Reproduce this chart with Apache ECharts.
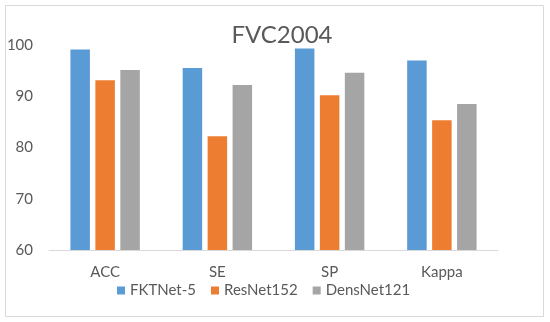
<!DOCTYPE html>
<html><head><meta charset="utf-8">
<script src="https://cdn.jsdelivr.net/npm/echarts@6/dist/echarts.min.js"></script>
<style>html,body{margin:0;padding:0;background:#fff}#c{width:550px;height:322px}</style>
</head><body><div id="c"></div>
<script>
var categories = ['ACC', 'SE', 'SP', 'Kappa'];
var seriesNames = ['FKTNet-5', 'ResNet152', 'DensNet121'];
var fktnet = [99.1, 95.5, 99.3, 97.0];
var resnet = [93.1, 82.2, 90.2, 85.3];
var densnet = [95.1, 92.2, 94.6, 88.5];
var yTicks = [60, 70, 80, 90, 100];
var colors = ['#5b9bd5', '#ed7d31', '#a5a5a5'];
var FONT = 'Lato';
var chart = echarts.init(document.getElementById('c'), null, {renderer: 'canvas'});
var dataSets = [fktnet, resnet, densnet];
chart.setOption({
  animation: false,
  backgroundColor: '#fff',
  title: {text: 'FVC2004', left: 277, top: 18, textAlign: 'center',
    textStyle: {fontFamily: FONT, fontSize: 24, fontWeight: 'normal', color: '#595959'}},
  graphic: [{type: 'rect', shape: {x: 5.5, y: 5.5, width: 538, height: 311},
    style: {fill: 'none', stroke: '#d9d9d9', lineWidth: 1}, silent: true}],
  legend: {data: seriesNames, left: 112, top: 278, itemWidth: 8, itemHeight: 8, itemGap: 15,
    icon: 'rect', textStyle: {fontFamily: FONT, fontSize: 15, color: '#595959'}},
  grid: {left: 49, right: 52, top: 45, bottom: 72},
  xAxis: {type: 'category', data: categories,
    axisLine: {lineStyle: {color: '#d9d9d9', width: 1}}, axisTick: {show: false},
    axisLabel: {fontFamily: FONT, fontSize: 15, color: '#595959', margin: 15}},
  yAxis: {type: 'value', min: yTicks[0], max: yTicks[yTicks.length - 1], interval: 10,
    splitLine: {show: false}, axisLine: {show: false}, axisTick: {show: false},
    axisLabel: {fontFamily: FONT, fontSize: 15, color: '#595959', margin: 16}},
  series: seriesNames.map(function (n, i) {
    return {name: n, type: 'bar', data: dataSets[i], barWidth: 19.5, barGap: '28%',
      itemStyle: {color: colors[i]}};
  })
});
</script></body></html>
